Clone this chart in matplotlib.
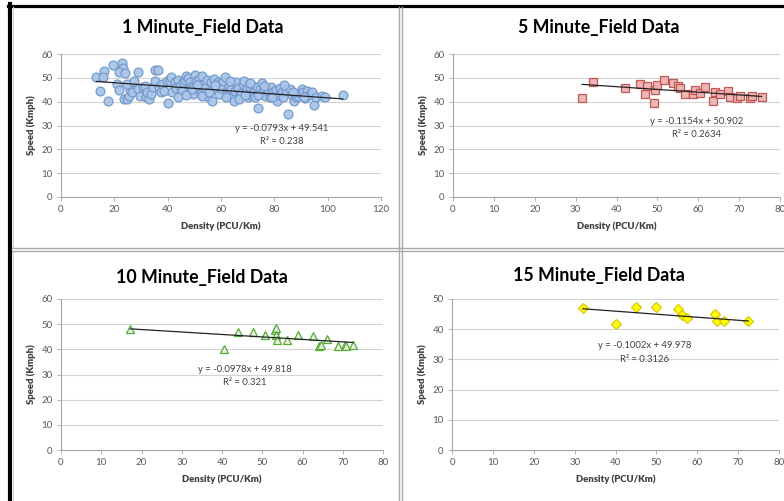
import matplotlib
matplotlib.use("Agg")
import matplotlib.pyplot as plt
from matplotlib.lines import Line2D

plt.rcParams['font.family'] = ['Lato', 'DejaVu Sans']

W, H = 784, 501

# 1 minute field data (density, speed)
x1 = [13.3, 14.8, 16.0, 15.7, 17.7, 19.6, 20.9, 21.6, 22.7, 23.3, 21.8, 23.9, 23.7, 24.9,
      25.5, 25.8, 24.7, 26.7, 27.4, 28.7, 29.0, 29.8, 30.7, 31.4, 31.7, 32.3, 33.1, 33.9,
      34.4, 35.3, 35.3, 36.3, 36.6, 37.4, 38.0, 38.7, 39.6, 40.2, 40.9, 41.1, 41.8, 42.7,
      43.3, 43.9, 44.5, 45.2, 45.9, 46.4, 47.0, 47.6, 48.2, 48.8, 49.4, 50.1, 50.7, 51.3,
      51.9, 52.5, 52.9, 53.5, 54.0, 54.7, 55.2, 56.2, 56.8, 57.4, 58.0, 58.7, 59.1, 59.6,
      60.1, 60.9, 61.5, 62.1, 62.6, 63.1, 63.6, 64.2, 64.8, 65.4, 65.8, 66.3, 67.0, 67.6,
      68.2, 68.7, 69.2, 69.7, 70.3, 70.9, 71.3, 71.9, 72.4, 72.9, 73.4, 74.0, 74.6, 75.3,
      75.8, 76.4, 77.1, 77.7, 78.3, 78.9, 79.5, 80.5, 81.1, 81.7, 82.2, 82.9, 83.4, 84.2,
      85.0, 85.9, 86.6, 87.5, 88.1, 88.7, 89.6, 90.3, 90.8, 91.5, 92.4, 93.0, 94.2, 94.8,
      95.5, 97.9, 99.0, 105.7,
      44.0, 46.8, 49.0, 51.0, 53.0, 55.5, 57.8, 61.8, 63.4, 66.8, 68.9, 71.0, 73.8, 76.0,
      79.0, 83.8, 87.0, 91.0]
y1 = [50.2, 44.4, 52.7, 50.2, 40.2, 55.4, 47.4, 44.9, 56.2, 54.0, 52.3, 51.9, 41.1, 41.1,
      42.5, 45.3, 47.4, 43.9, 48.8, 52.3, 45.3, 42.5, 46.0, 46.7, 41.8, 43.9, 41.1, 43.2,
      46.0, 48.8, 53.3, 53.3, 46.0, 43.9, 47.4, 44.6, 48.8, 39.3, 48.8, 50.5, 43.9, 48.1,
      45.7, 49.1, 46.7, 44.6, 48.1, 49.1, 50.9, 49.9, 48.1, 46.3, 43.2, 51.3, 48.8, 45.3,
      49.5, 43.2, 50.9, 47.4, 45.7, 49.1, 41.8, 48.1, 40.4, 49.5, 45.3, 48.1, 43.2, 47.4,
      45.7, 48.8, 50.5, 44.6, 43.2, 46.7, 45.3, 41.8, 40.4, 44.6, 48.1, 45.7, 43.0, 43.5,
      47.4, 48.8, 44.6, 45.7, 42.1, 46.3, 43.0, 46.7, 43.9, 41.8, 46.0, 37.4, 45.3, 47.7,
      44.4, 42.5, 45.7, 44.6, 41.8, 46.3, 43.9, 44.9, 40.4, 43.0, 45.7, 43.9, 41.8, 44.9,
      34.9, 45.3, 43.0, 40.4, 41.8, 42.5, 43.5, 45.3, 43.9, 41.6, 44.6, 43.0, 43.9, 38.4,
      41.8, 42.5, 42.0, 43.0,
      42.0, 42.8, 45.5, 47.0, 42.5, 44.0, 47.0, 42.0, 48.5, 41.0, 42.8, 48.0, 43.0, 46.5,
      42.0, 47.0, 44.0, 42.0]

# 5 minute field data
x5 = [31.6, 34.3, 42.1, 45.8, 46.9, 47.4, 49.1, 49.3, 49.9, 51.7, 53.8, 55.0, 55.6, 56.8,
      58.8, 59.2, 60.5, 61.7, 63.7, 64.1, 65.3, 67.4, 67.8, 69.4, 70.2, 72.7, 73.1, 75.5]
y5 = [41.7, 48.2, 45.8, 47.5, 43.3, 46.5, 39.6, 45.1, 47.2, 49.3, 47.9, 46.5, 45.6, 43.1,
      43.3, 45.1, 43.8, 46.1, 40.3, 44.2, 43.3, 44.4, 41.9, 41.7, 42.4, 41.7, 42.4, 41.9]

# 10 minute field data
x10 = [17.2, 40.5, 44.0, 47.6, 50.7, 53.1, 53.4, 53.4, 53.6, 56.2, 58.9, 62.6, 64.1, 64.7,
       66.1, 68.8, 70.5, 70.9, 72.6]
y10 = [48.1, 40.1, 46.7, 46.7, 45.8, 47.5, 48.5, 45.8, 43.6, 43.6, 45.8, 45.2, 41.4, 41.8,
       44.1, 41.4, 41.8, 41.4, 41.8]

# 15 minute field data
x15 = [32.0, 40.2, 45.1, 50.0, 55.2, 56.2, 57.6, 64.3, 64.9, 66.5, 72.5]
y15 = [47.0, 41.8, 47.2, 47.2, 46.6, 44.8, 43.7, 45.0, 42.6, 42.6, 42.6]

# trend lines
fits = [(-0.0793, 49.541, 0.238), (-0.1154, 50.902, 0.2634),
        (-0.0978, 49.818, 0.321), (-0.1002, 49.978, 0.3126)]
titles = ["1 Minute_Field Data", "5 Minute_Field Data",
          "10 Minute_Field Data", "15 Minute_Field Data"]

fig = plt.figure(figsize=(W / 100, H / 100), dpi=100)


def px_axes(l, t, r, b):
    return fig.add_axes([l / W, 1 - b / H, (r - l) / W, (b - t) / H])


def fline(xs, ys, color, lw):
    fig.add_artist(Line2D([v / W for v in xs], [1 - v / H for v in ys],
                          transform=fig.transFigure, color=color, lw=lw))


# panel frames
fline([8, W], [5.5, 5.5], "black", 2.3)
fline([10, 10], [4, H], "black", 3.0)
fline([13.5, 13.5], [7, 247], "#d8d8d8", 0.7)
fline([13.5, 13.5], [252, H], "#d8d8d8", 0.7)
fline([398.5, 398.5], [7, H], "#a8a8a8", 1.0)
fline([402, 402], [7, H], "#a8a8a8", 1.0)
fline([12, W], [248, 248], "#a8a8a8", 1.0)
fline([12, W], [251, 251], "#a8a8a8", 1.0)

boxes = [(61, 54, 381, 197), (453, 54, 780, 197), (61, 299, 383, 450), (452, 299, 779, 450)]
xlims = [(0, 120, 20), (0, 80, 10), (0, 80, 10), (0, 80, 10)]
ylims = [60, 60, 60, 50]
data = [(x1, y1), (x5, y5), (x10, y10), (x15, y15)]
styles = [dict(marker="o", ms=6.4, mfc="#aac5e8", mec="#7098cb"),
          dict(marker="s", ms=6.4, mfc="#ebb3b1", mec="#c0504d"),
          dict(marker="^", ms=6.4, mfc="#e6f2df", mec="#4ea72e"),
          dict(marker="D", ms=5.4, mfc="#ffff00", mec="#d9c400")]
eq_pos = [(0.69, 0.48, 0.385), (0.746, 0.53, 0.44), (0.57, 0.53, 0.45), (0.59, 0.69, 0.60)]

for i in range(4):
    l, t, r, b = boxes[i]
    ax = px_axes(l, t, r, b)
    xs, ys = data[i]
    ax.plot(xs, ys, ls="none", mew=0.9, alpha=0.95, zorder=3, **styles[i])
    m, c, r2 = fits[i]
    lo, hi = min(xs), max(xs)
    ax.plot([lo, hi], [m * lo + c, m * hi + c], color="#222222", lw=0.9, zorder=4)

    x0, x1_, xs_ = xlims[i]
    ax.set_xlim(x0, x1_)
    ax.set_xticks(range(x0, x1_ + 1, xs_))
    ax.set_ylim(0, ylims[i])
    ax.set_yticks(range(0, ylims[i] + 1, 10))
    ax.grid(axis="y", color="#d4d4d4", lw=0.8)
    ax.set_axisbelow(True)
    for s in ["top", "right"]:
        ax.spines[s].set_visible(False)
    for s in ["left", "bottom"]:
        ax.spines[s].set_color("#a6a6a6")
        ax.spines[s].set_linewidth(0.8)
    ax.tick_params(length=3, width=0.6, color="#a6a6a6", labelsize=7,
                   labelcolor="#595959", pad=3)
    ax.set_xlabel("Density (PCU/Km)", fontsize=6.8, fontweight="heavy", color="#404040", labelpad=5)
    ax.set_ylabel("Speed (Kmph)", fontsize=6.8, fontweight="heavy", color="#404040", labelpad=4)

    ex, ey, ry = eq_pos[i]
    sign = "-" if m < 0 else "+"
    ax.text(ex, ey, "y = %s%gx + %g" % (sign, abs(m), c), transform=ax.transAxes,
            ha="center", va="center", fontsize=6.8, color="#404040")
    ax.text(ex, ry, "R\u00b2 = %g" % r2, transform=ax.transAxes,
            ha="center", va="center", fontsize=6.8, color="#404040")

title_pos = [(203, 27), (599, 28), (202, 278), (599, 276)]
for (tx, ty), tt in zip(title_pos, titles):
    fig.text(tx / W, 1 - ty / H, tt, ha="center", va="center", fontsize=12.8,
             fontweight="bold", color="black")

fig.savefig("out.png", dpi=100)
